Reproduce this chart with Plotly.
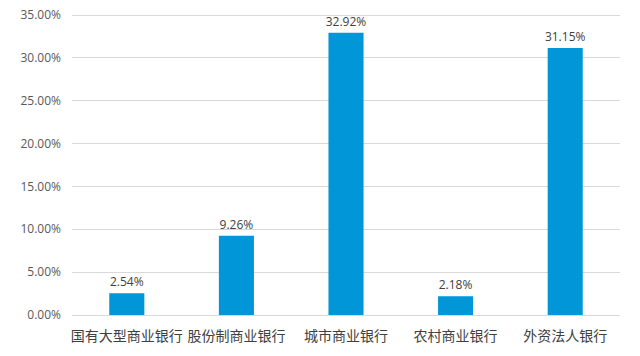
import plotly.graph_objects as go

categories = ["国有大型商业银行", "股份制商业银行", "城市商业银行", "农村商业银行", "外资法人银行"]
values = [2.54, 9.26, 32.92, 2.18, 31.15]
tick_vals = [0, 5, 10, 15, 20, 25, 30, 35]
tick_text = ["%.2f%%" % v for v in tick_vals]
labels = ["%.2f%%" % v for v in values]

fig = go.Figure(go.Bar(
    x=categories, y=values, text=labels, textposition="outside",
    marker=dict(color="#0096D8", line=dict(width=0)),
    textfont=dict(family="Open Sans, Noto Sans CJK SC", size=12, color="#404040"),
    cliponaxis=False, constraintext="none",
))
fig.update_layout(
    width=640, height=356, margin=dict(l=72, r=20, t=14, b=41, autoexpand=False),
    paper_bgcolor="white", plot_bgcolor="white", showlegend=False,
    font=dict(family="Noto Sans CJK SC", color="#404040"),
    bargap=0.68,
)
fig.update_yaxes(range=[0, 35.12], tickvals=tick_vals, ticktext=tick_text, automargin=False,
                 showgrid=True, gridcolor="#D9D9D9", gridwidth=1, zeroline=False,
                 showline=False, ticks="", ticklabelstandoff=10, ticklabeloverflow="allow",
                 tickfont=dict(family="Open Sans, Noto Sans CJK SC", size=12, color="#595959"))
fig.update_xaxes(showline=True, linecolor="#D9D9D9", linewidth=1, ticks="", automargin=False,
                 ticklabelstandoff=8,
                 tickfont=dict(family="Noto Sans CJK SC", size=14, color="#404040"),
                 range=[-0.5, 4.5])
fig.write_html("out.html", config={"displayModeBar": False},
               post_script="document.body.style.margin='0';")
